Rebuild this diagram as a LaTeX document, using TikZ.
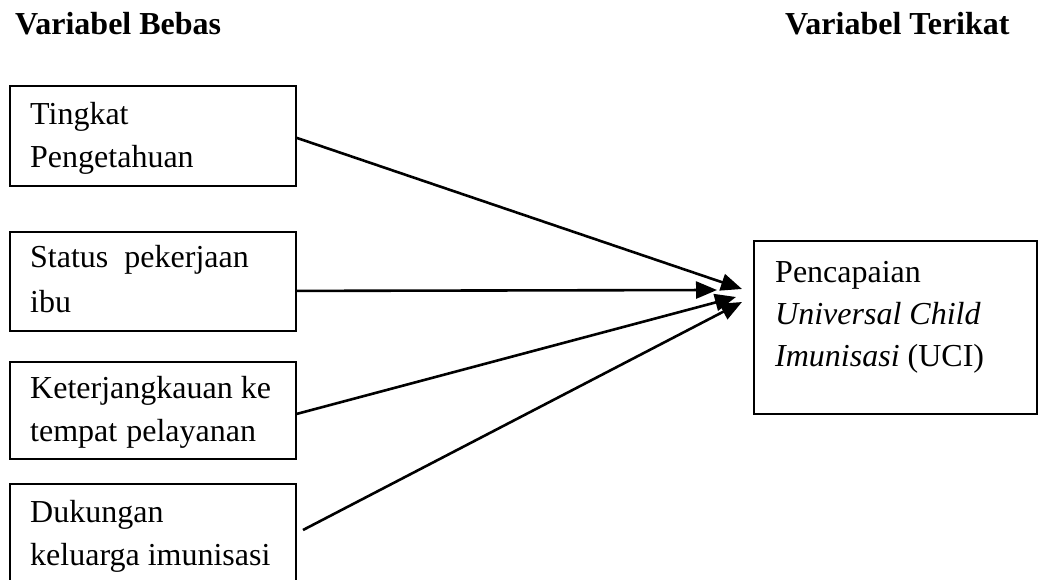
\documentclass[tikz,border=0pt]{standalone}
\usepackage{fontspec}
\setmainfont{Liberation Serif}
\usetikzlibrary{arrows.meta}
\begin{document}
\begin{tikzpicture}[x=1pt,y=-1pt,
  box/.style={draw,line width=1.8pt,anchor=north west,inner sep=0pt,minimum width=286pt},
  lbl/.style={anchor=base west,inner sep=0pt,font=\fontsize{32}{43}\selectfont},
  head/.style={anchor=base west,inner sep=0pt,font=\fontsize{32}{43}\selectfont\bfseries},
  arr/.style={line width=2.6pt,-{Triangle[length=21pt,width=17pt]}}]
\clip (0,0) rectangle (1038,580);
\fill[white] (0,0) rectangle (1038,580);
% headings
\node[head] (hb) at (15,35) {Variabel Bebas};
\node[head] (ht) at (785,35) {Variabel Terikat};
% boxes
\node[box,minimum height=100pt] (b1) at (9,85) {};
\node[box,minimum height=99pt] (b2) at (9,231) {};
\node[box,minimum height=97pt] (b3) at (9,361) {};
\node[box,minimum height=130pt] (b4) at (9,483) {};
\node[box,minimum width=283pt,minimum height=173pt] (r) at (753,240) {};
% texts
\node[lbl] (t1a) at (30,125) {Tingkat};
\node[lbl] (t1b) at (30,168) {Pengetahuan};
\node[lbl] (t2a) at (30,267) {Status\hspace{16pt}pekerjaan};
\node[lbl] (t2b) at (30,312) {ibu};
\node[lbl] (t3a) at (30,398) {Keterjangkauan ke};
\node[lbl] (t3b) at (30,441) {tempat\hspace{9pt}pelayanan};
\node[lbl] (t4a) at (30,522) {Dukungan};
\node[lbl] (t4b) at (30,565) {keluarga imunisasi};
\node[lbl] (ra) at (775,282) {Pencapaian};
\node[lbl] (rb) at (775,324) {\itshape Universal Child};
\node[lbl] (rc) at (775,366) {\itshape Imunisasi\upshape{} (UCI)};
% arrow tips
\coordinate (p1) at (742,289);
\coordinate (p2) at (717,290);
\coordinate (p3) at (736,297);
\coordinate (p4) at (742,302);
\coordinate (s4) at (303,530);
% connectors
\draw[arr] ([yshift=-2pt]b1.east) -- (p1);
\draw[arr] ([yshift=-9.5pt]b2.east) -- (p2);
\draw[arr] ([yshift=-3.5pt]b3.east) -- (p3);
\draw[arr] (s4) -- (p4);
\end{tikzpicture}
\end{document}
